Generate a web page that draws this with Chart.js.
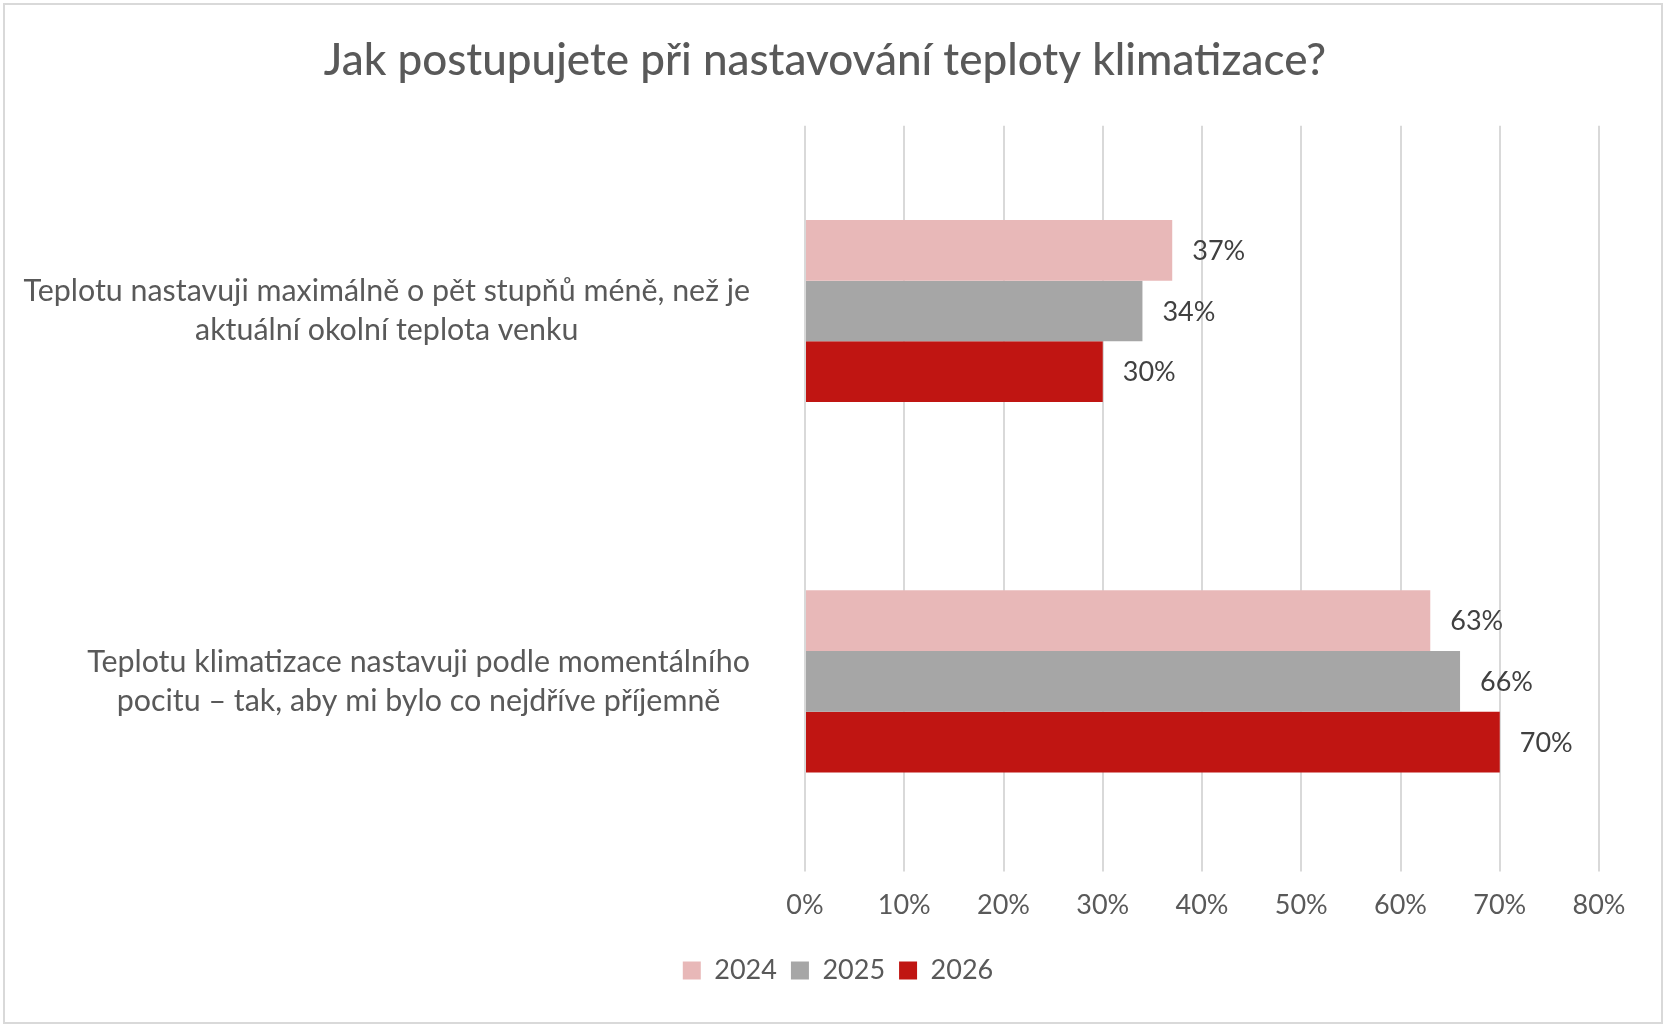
<!DOCTYPE html>
<html>
<head>
<meta charset="utf-8">
<script src="https://cdn.jsdelivr.net/npm/chart.js@4/dist/chart.umd.min.js"></script>
<style>
  html, body { margin: 0; padding: 0; background: #fff; }
  #wrap { position: relative; width: 1666px; height: 1026px; }
</style>
</head>
<body>
<div id="wrap"><canvas id="chart" width="1666" height="1026"></canvas></div>
<script>
// data
const TITLE = 'Jak postupujete při nastavování teploty klimatizace?';
const categories = [
  ['Teplotu nastavuji maximálně o pět stupňů méně, než je', 'aktuální okolní teplota venku'],
  ['Teplotu klimatizace nastavuji podle momentálního', 'pocitu – tak, aby mi bylo co nejdříve příjemně']
];
const years = ['2024', '2025', '2026'];
const values2024 = [0.37, 0.63];
const values2025 = [0.34, 0.66];
const values2026 = [0.30, 0.70];
const xTicks = [0, 0.1, 0.2, 0.3, 0.4, 0.5, 0.6, 0.7, 0.8];

const colors = ['#E8B8B8', '#A6A6A6', '#C01512'];
const FONT = 'Lato';

const pct = v => Math.round(v * 100) + '%';

// outer chart border, like the spreadsheet chart object
const frame = {
  id: 'frame',
  beforeDraw(chart) {
    const ctx = chart.ctx;
    ctx.save();
    ctx.fillStyle = '#fff';
    ctx.fillRect(0, 0, chart.width, chart.height);
    ctx.strokeStyle = '#d9d9d9';
    ctx.lineWidth = 2;
    ctx.strokeRect(4, 4, chart.width - 8, chart.height - 7);
    ctx.restore();
  },
  // legend sits a little right of the title centre and lower in the original
  afterLayout(chart) {
    const lg = chart.legend;
    if (lg) {
      lg.left += 13;
      lg.right += 13;
      lg.top += 5;
      lg.bottom += 5;
    }
  }
};

// value labels at the end of each bar
const barLabels = {
  id: 'barLabels',
  afterDatasetsDraw(chart) {
    const ctx = chart.ctx;
    ctx.save();
    ctx.font = '27px ' + FONT;
    ctx.fillStyle = '#404040';
    ctx.textAlign = 'left';
    ctx.textBaseline = 'middle';
    chart.data.datasets.forEach((ds, i) => {
      chart.getDatasetMeta(i).data.forEach((bar, j) => {
        ctx.fillText(pct(ds.data[j]), bar.x + 20, bar.y + 1);
      });
    });
    ctx.restore();
  }
};

// category labels: lines centred inside a block that ends near the plot
const catLabels = {
  id: 'catLabels',
  afterDraw(chart) {
    const ctx = chart.ctx;
    const y = chart.scales.y;
    const right = chart.chartArea.left - 55;
    const lh = 39;
    ctx.save();
    ctx.font = '30.4px ' + FONT;
    ctx.fillStyle = '#595959';
    ctx.textAlign = 'center';
    ctx.textBaseline = 'middle';
    categories.forEach((lines, i) => {
      const w = Math.max(...lines.map(l => ctx.measureText(l).width));
      const cx = right - w / 2;
      const cy = y.getPixelForValue(i);
      lines.forEach((l, k) => {
        ctx.fillText(l, cx, cy + (k - (lines.length - 1) / 2) * lh);
      });
    });
    ctx.restore();
  }
};

new Chart(document.getElementById('chart'), {
  type: 'bar',
  data: {
    labels: categories,
    datasets: [
      { label: years[0], data: values2024, backgroundColor: colors[0] },
      { label: years[1], data: values2025, backgroundColor: colors[1] },
      { label: years[2], data: values2026, backgroundColor: colors[2] }
    ]
  },
  options: {
    indexAxis: 'y',
    responsive: false,
    animation: false,
    devicePixelRatio: 1,
    categoryPercentage: 0.492,
    barPercentage: 1,
    layout: { padding: { top: 22, right: 67, bottom: 37, left: 51 } },
    plugins: {
      title: {
        display: true,
        text: TITLE,
        color: '#595959',
        font: { family: FONT, size: 44, weight: 500 },
        padding: { top: 12, bottom: 39 }
      },
      legend: {
        position: 'bottom',
        labels: {
          boxWidth: 18,
          boxHeight: 18,
          padding: 14,
          color: '#595959',
          font: { family: FONT, size: 27 }
        }
      },
      tooltip: { enabled: false }
    },
    scales: {
      x: {
        min: 0,
        max: 0.8,
        afterBuildTicks: s => { s.ticks = xTicks.map(v => ({ value: v })); },
        ticks: {
          callback: v => pct(v),
          color: '#595959',
          font: { family: FONT, size: 27 },
          padding: 17
        },
        grid: { color: '#d9d9d9', lineWidth: 2, drawTicks: true, tickLength: 5 },
        border: { display: false }
      },
      y: {
        ticks: { display: false },
        grid: { display: false },
        border: { display: false },
        afterFit: s => { s.width = 754; }
      }
    }
  },
  plugins: [frame, barLabels, catLabels]
});
</script>
</body>
</html>
